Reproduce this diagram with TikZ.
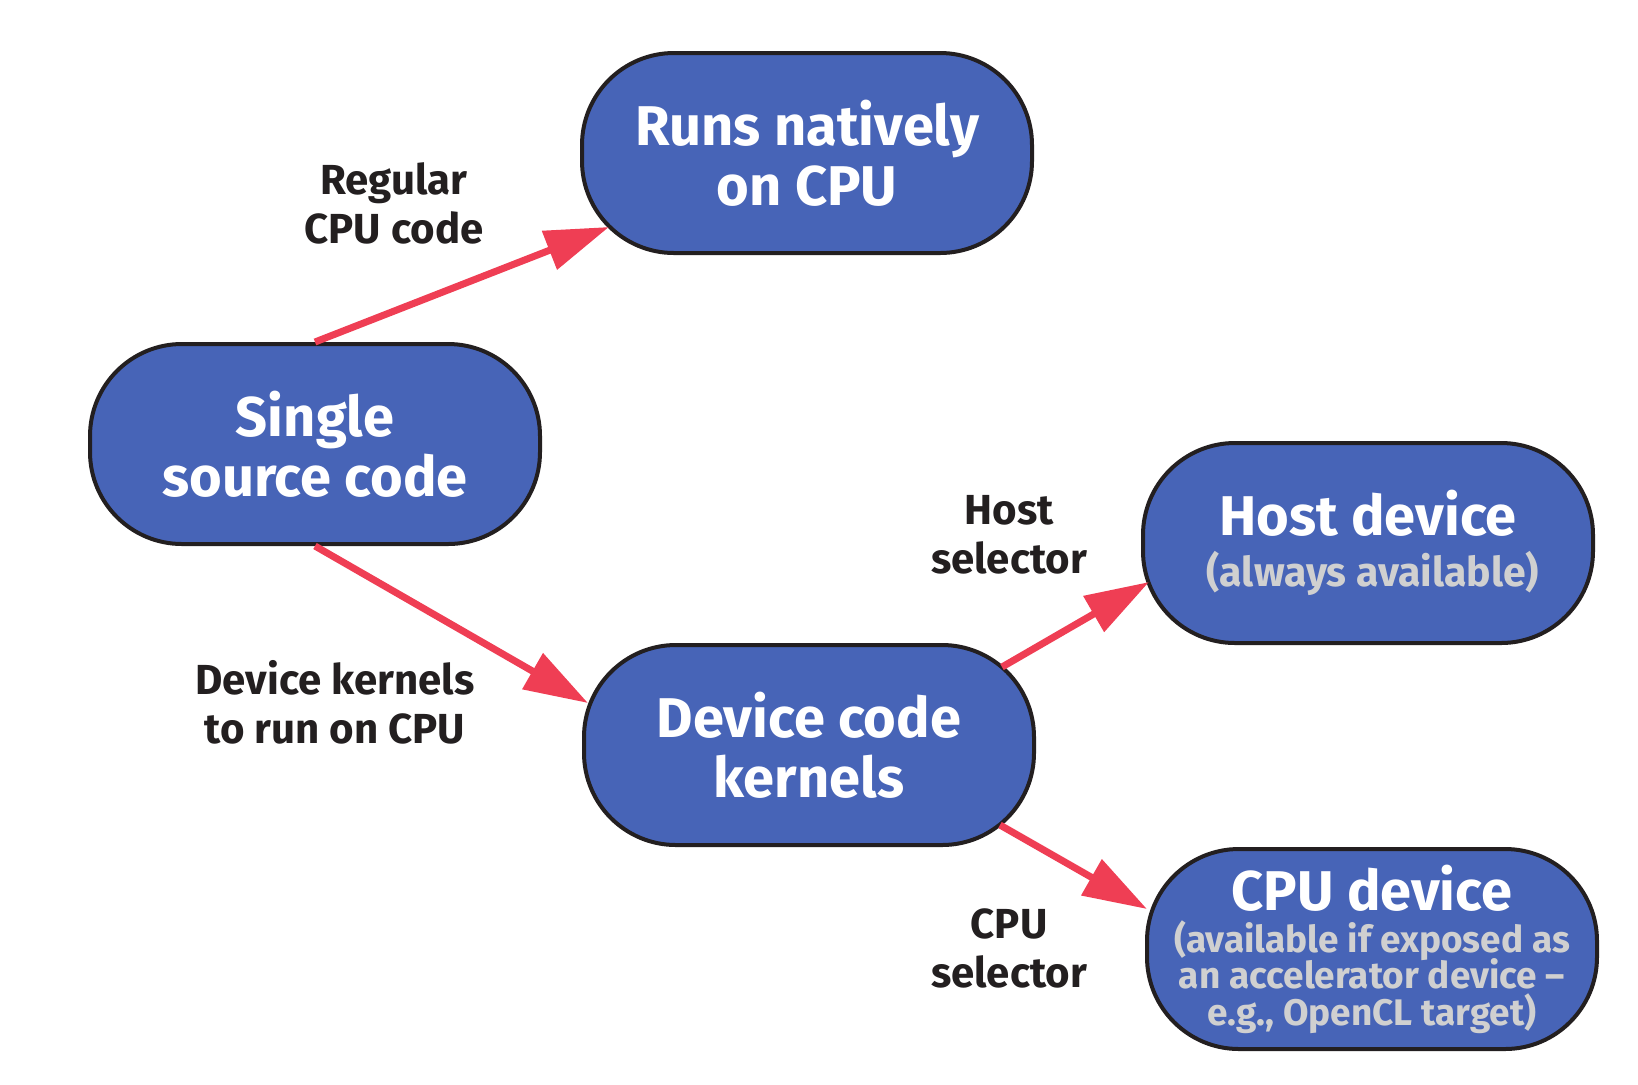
\documentclass[tikz,border=0pt]{standalone}
\usepackage{fontspec}
\setmainfont{Fira Sans}
\usetikzlibrary{arrows.meta}
\definecolor{boxblue}{RGB}{71,100,183}
\definecolor{boxline}{RGB}{35,31,32}
\definecolor{arrowred}{RGB}{239,62,84}
\definecolor{subgrey}{RGB}{208,208,208}
\newcommand\subtxt[1][18.5]{\color{subgrey}\fontsize{#1}{18.3}\selectfont}

\begin{document}
\begin{tikzpicture}[x=0.5pt,y=-0.5pt,
  box/.style={draw=boxline,line width=2pt,fill=boxblue,rounded corners=46pt,
    minimum width=225pt,minimum height=100pt,text=white,align=center,
    font=\fontsize{28}{30}\selectfont\bfseries},
  lbl/.style={text=boxline,align=center,font=\fontsize{21}{24.5}\selectfont\bfseries},
  flow/.style={draw=arrowred,line width=3.5pt,-{Triangle[length=32pt,width=20pt]}}]
\useasboundingbox (0,0) rectangle (1638,1084);
% boxes
\node[box] (run) at (807,153) {Runs natively\\on CPU};
\node[box] (src) at (315,444) {Single\\source code};
\node[box] (dev) at (809,745) {Device code\\kernels};
\node[box] (host) at (1368,543) {Host device\\[-4.5pt]\subtxt[20.5] (always available)};
\node[box] (cpu) at (1372,949) {CPU device\\[-9pt]\subtxt (available if exposed as\\[-11.7pt]\subtxt an accelerator device --\\[-11.7pt]\subtxt e.g., OpenCL target)};
% labels
\node[lbl] (regular) at (394,203) {Regular\\CPU code};
\node[lbl] (kern) at (335,702) {Device kernels\\to run on CPU};
\node[lbl] (hostsel) at (1009,535) {Host\\selector};
\node[lbl] (cpusel) at (1009,948) {CPU\\selector};
% arrows
\draw[flow] (src.north) -- ([xshift=14.5pt,yshift=14pt]run.south west);
\draw[flow] (src.south) -- ([xshift=3pt,yshift=21pt]dev.west);
\draw[flow] ([xshift=-17pt,yshift=-12pt]dev.north east) -- ([xshift=4pt,yshift=-19.5pt]host.west);
\draw[flow] ([xshift=-18pt,yshift=11pt]dev.south east) -- ([xshift=1pt,yshift=20pt]cpu.west);
\end{tikzpicture}
\end{document}
